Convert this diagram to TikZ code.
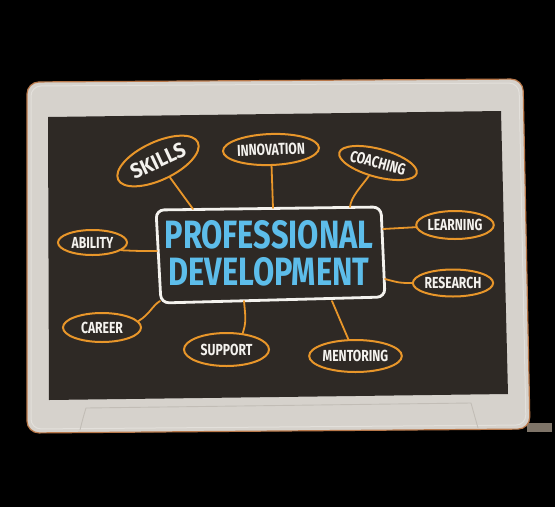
\documentclass[tikz,border=0pt]{standalone}
\usepackage{fontspec}
\usetikzlibrary{shapes.geometric}
\newfontfamily\hand[FakeStretch=0.76]{Fira Sans}
\newfontfamily\titlefont[FakeStretch=0.78]{Fira Sans}
\newfontfamily\handwide[FakeStretch=0.9]{Fira Sans}
\definecolor{bezel}{HTML}{D6D2CC}
\definecolor{bezeledge}{HTML}{B9784A}
\definecolor{bezelhi}{HTML}{E3E0DB}
\definecolor{screenc}{HTML}{2E2925}
\definecolor{chalkorange}{HTML}{E8962A}
\definecolor{chalkblue}{HTML}{5DBDEA}
\definecolor{chalkwhite}{HTML}{F4F2EE}
\definecolor{lipc}{HTML}{C2BDB6}
\definecolor{patchc}{HTML}{7E7468}
\tikzset{
  bubble/.style={ellipse, draw=chalkorange, line width=2pt, inner sep=0pt,
    text=chalkwhite, font=\hand\bfseries\fontsize{16}{16}\selectfont},
  link/.style={draw=chalkorange, line width=1.8pt, line cap=round},
  boxline/.style={draw=chalkwhite, line width=2.8pt, rounded corners=8pt},
  titletext/.style={text=chalkblue, align=center, inner sep=0pt,
    font=\titlefont\bfseries\fontsize{39.5}{37}\selectfont}
}
\begin{document}
\begin{tikzpicture}[x=1pt,y=-1pt]
\fill[black] (0,0) rectangle (555,507);
\useasboundingbox (0,0) rectangle (555,507);
% stray patch
\fill[patchc] (527,423) rectangle (552,432);
% tablet bezel
\filldraw[fill=bezel, draw=bezeledge, line width=1.2pt, rounded corners=12pt]
  (27,82) -- (523,79) -- (530,429) -- (27,433) -- cycle;
\draw[bezelhi, line width=1pt, rounded corners=10pt]
  (31,86) -- (519,83) -- (526,425) -- (31,429) -- cycle;
% screen
\fill[screenc] (48,117) -- (501,111) -- (508,394) -- (49,400) -- cycle;
% bottom lip
\draw[lipc, line width=0.9pt] (80,430) .. controls (83,418) .. (86,408) -- (471,403) .. controls (474,415) .. (478,428);

% central box
\draw[boxline] (156,210) -- (381,207) -- (385,297) -- (161,303) -- cycle;
\node[titletext] (pd) at (269,253) {PROFESSIONAL\\DEVELOPMENT};

% attachment points on the box
\coordinate (cSk) at (193,209);
\coordinate (cIn) at (273,208);
\coordinate (cCo) at (350,207);
\coordinate (cLe) at (383,229);
\coordinate (cRe) at (385,279);
\coordinate (cMe) at (332,301);
\coordinate (cSu) at (244,301);
\coordinate (cCa) at (160,301);
\coordinate (cAb) at (157,251);

% bubbles
\node[bubble, minimum width=88pt, minimum height=38pt, rotate=25,
  font=\handwide\bfseries\fontsize{21}{21}\selectfont] (skills) at (158,161) {SKILLS};
\node[bubble, minimum width=84pt, minimum height=31pt, rotate=2] (innov) at (271,149.5) {INNOVATION};
\node[bubble, minimum width=78pt, minimum height=28pt, rotate=-15] (coach) at (378,163) {COACHING};
\node[bubble, minimum width=77pt, minimum height=28pt] (learn) at (455,225) {LEARNING};
\node[bubble, minimum width=77pt, minimum height=27pt] (research) at (453,283) {RESEARCH};
\node[bubble, minimum width=85pt, minimum height=32pt] (mentor) at (355.5,356) {MENTORING};
\node[bubble, minimum width=85pt, minimum height=33pt] (support) at (226.5,349.5) {SUPPORT};
\node[bubble, minimum width=78pt, minimum height=29pt] (career) at (102,327.5) {CAREER};
\node[bubble, minimum width=69pt, minimum height=25pt] (ability) at (92.5,242.5) {ABILITY};

% connectors
\draw[link] (skills) -- (cSk);
\draw[link] (innov) -- (cIn);
\draw[link] (coach.250) .. controls (360,188) and (351,197) .. (cCo);
\draw[link] (learn) -- (cLe);
\draw[link] (research) .. controls (400,283) .. (cRe);
\draw[link] (mentor) -- (cMe);
\draw[link] (support.45) .. controls (246,322) .. (cSu);
\draw[link] (career.10) .. controls (150,314) and (152,306) .. (cCa);
\draw[link] (ability.-15) .. controls (138,251) .. (cAb);
\end{tikzpicture}
\end{document}
